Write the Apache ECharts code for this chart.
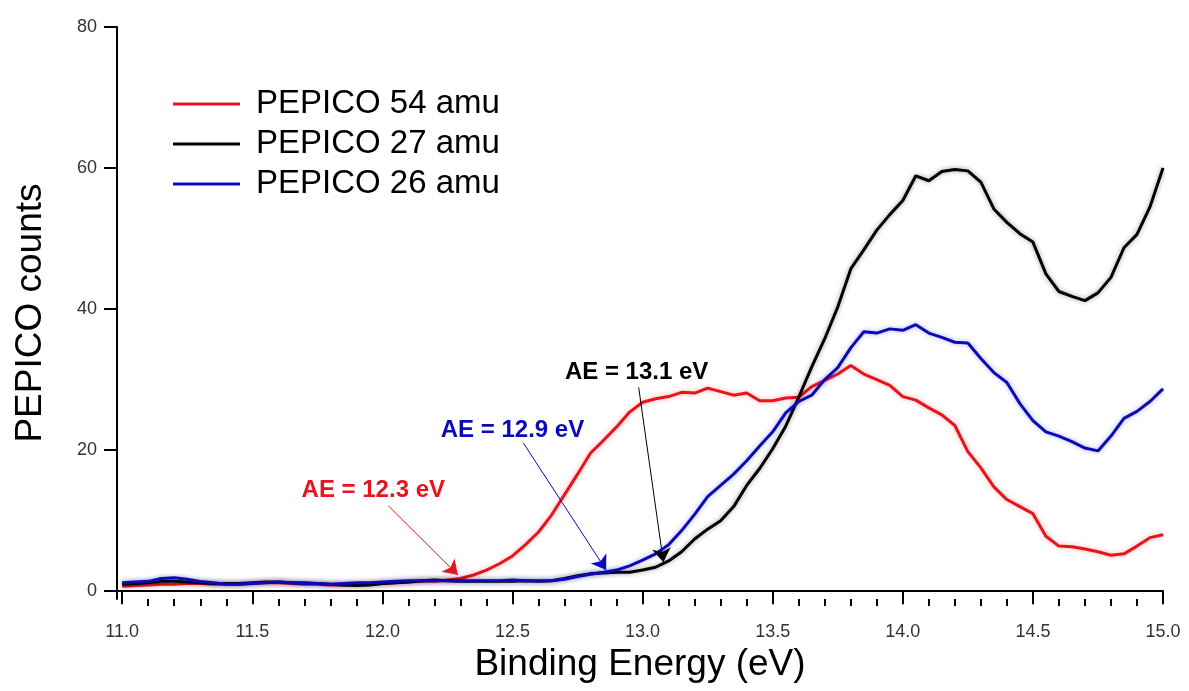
<!DOCTYPE html>
<html>
<head>
<meta charset="utf-8">
<script src="https://cdn.jsdelivr.net/npm/echarts@6/dist/echarts.min.js"></script>
<style>
  html, body { margin: 0; padding: 0; background: #fff; }
  #chart { width: 1189px; height: 691px; }
</style>
</head>
<body>
<div id="chart"></div>
<script>
// binding energy grid (eV)
const energy = [
  11.00, 11.05, 11.10, 11.15, 11.20, 11.25, 11.30, 11.35, 11.40, 11.45,
  11.50, 11.55, 11.60, 11.65, 11.70, 11.75, 11.80, 11.85, 11.90, 11.95,
  12.00, 12.05, 12.10, 12.15, 12.20, 12.25, 12.30, 12.35, 12.40, 12.45,
  12.50, 12.55, 12.60, 12.65, 12.70, 12.75, 12.80, 12.85, 12.90, 12.95,
  13.00, 13.05, 13.10, 13.15, 13.20, 13.25, 13.30, 13.35, 13.40, 13.45,
  13.50, 13.55, 13.60, 13.65, 13.70, 13.75, 13.80, 13.85, 13.90, 13.95,
  14.00, 14.05, 14.10, 14.15, 14.20, 14.25, 14.30, 14.35, 14.40, 14.45,
  14.50, 14.55, 14.60, 14.65, 14.70, 14.75, 14.80, 14.85, 14.90, 14.95,
  15.00
]

const amu54 = [
  0.7, 0.8, 0.9, 1.0, 1.0, 1.1, 1.1, 1.0, 1.0, 1.0,
  1.1, 1.2, 1.2, 1.1, 1.0, 1.0, 0.9, 0.9, 1.0, 1.0,
  1.1, 1.2, 1.3, 1.4, 1.4, 1.6, 1.8, 2.3, 3.0, 3.9,
  5.0, 6.6, 8.4, 10.8, 13.7, 16.6, 19.6, 21.4, 23.3, 25.4,
  26.8, 27.3, 27.6, 28.2, 28.1, 28.8, 28.3, 27.8, 28.1, 27.0,
  27.0, 27.4, 27.5, 29.0, 29.9, 30.8, 32.0, 30.8, 30.0, 29.2,
  27.6, 27.1, 26.0, 25.0, 23.5, 19.8, 17.5, 14.8, 13.0, 12.0,
  11.0, 7.8, 6.4, 6.3, 6.0, 5.6, 5.1, 5.3, 6.4, 7.6,
  8.0
]

const amu27 = [
  1.0, 1.1, 1.2, 1.4, 1.4, 1.3, 1.2, 1.1, 1.1, 1.1,
  1.2, 1.3, 1.3, 1.2, 1.2, 1.1, 1.0, 0.9, 0.8, 0.9,
  1.1, 1.2, 1.3, 1.5, 1.6, 1.5, 1.4, 1.4, 1.4, 1.4,
  1.4, 1.5, 1.4, 1.5, 1.8, 2.2, 2.5, 2.6, 2.7, 2.7,
  3.0, 3.4, 4.3, 5.6, 7.4, 8.8, 10.0, 12.0, 15.0, 17.4,
  20.2, 23.4, 27.5, 31.8, 35.8, 40.3, 45.7, 48.4, 51.2, 53.4,
  55.4, 58.9, 58.2, 59.5, 59.8, 59.6, 58.0, 54.2, 52.3, 50.7,
  49.5, 45.0, 42.5, 41.8, 41.2, 42.3, 44.5, 48.7, 50.6, 54.5,
  60.0
]

const amu26 = [
  1.2, 1.3, 1.4, 1.8, 1.9, 1.7, 1.4, 1.2, 1.0, 1.0,
  1.1, 1.2, 1.3, 1.2, 1.1, 1.1, 1.0, 1.1, 1.2, 1.2,
  1.3, 1.4, 1.5, 1.5, 1.5, 1.5, 1.5, 1.5, 1.5, 1.5,
  1.6, 1.5, 1.5, 1.5, 1.7, 2.1, 2.4, 2.7, 3.0, 3.6,
  4.4, 5.3, 6.6, 8.6, 10.9, 13.4, 15.0, 16.6, 18.5, 20.6,
  22.6, 25.3, 26.9, 27.8, 30.0, 31.7, 34.5, 36.8, 36.6, 37.2,
  37.0, 37.8, 36.6, 36.0, 35.3, 35.2, 33.0, 31.0, 29.6, 26.6,
  24.2, 22.6, 22.0, 21.2, 20.3, 19.9, 22.0, 24.5, 25.5, 26.9,
  28.7
]

const seriesNames = ['PEPICO 54 amu', 'PEPICO 27 amu', 'PEPICO 26 amu']
const seriesColors = ['#e8141b', '#000000', '#0a0ab8']
const shadeColors = ['rgba(232,20,27,0.35)', 'rgba(0,0,0,0.4)', 'rgba(10,10,184,0.35)']

// tick positions
const xMajorTicks = [11.0, 11.5, 12.0, 12.5, 13.0, 13.5, 14.0, 14.5, 15.0]
const xMinorTicks = [
  11.1, 11.2, 11.3, 11.4, 11.6, 11.7, 11.8, 11.9,
  12.1, 12.2, 12.3, 12.4, 12.6, 12.7, 12.8, 12.9,
  13.1, 13.2, 13.3, 13.4, 13.6, 13.7, 13.8, 13.9,
  14.1, 14.2, 14.3, 14.4, 14.6, 14.7, 14.8, 14.9
]
const yTicks = [0, 20, 40, 60, 80]

// appearance-energy annotations, one per series (54, 27, 26 amu)
const aeLabels = ['AE = 12.3 eV', 'AE = 13.1 eV', 'AE = 12.9 eV']
const aeTextAt = [[11.965, 14.3], [12.977, 31.1], [12.5, 22.8]]
const aeArrowFrom = [[12.023, 12.1], [12.985, 28.9], [12.542, 21.0]]
const aeArrowTo = [[12.29, 2.3], [13.08, 4.1], [12.86, 3.0]]

const FONT = 'Liberation Sans, Arial, sans-serif'
const chart = echarts.init(document.getElementById('chart'))

const allData = [amu54, amu27, amu26]

const series = allData.map((vals, i) => ({
  name: seriesNames[i],
  type: 'line',
  data: energy.map((e, k) => [e, vals[k]]),
  showSymbol: false,
  smooth: false,
  animation: false,
  lineStyle: {
    color: seriesColors[i],
    width: 3,
    shadowColor: shadeColors[i],
    shadowBlur: 5
  },
  itemStyle: { color: seriesColors[i] },
  markLine: {
    silent: true,
    animation: false,
    symbol: ['none', 'arrow'],
    symbolSize: 14,
    label: { show: false },
    emphasis: { disabled: true },
    lineStyle: { color: seriesColors[i], width: 1, type: 'solid' },
    data: [[{ coord: aeArrowFrom[i] }, { coord: aeArrowTo[i] }]]
  }
}))

const option = {
  backgroundColor: '#fff',
  animation: false,
  grid: {
    left: 117,
    right: 26,
    top: 27,
    bottom: 92,
    outerBoundsMode: 'none'
  },
  legend: {
    data: seriesNames,
    orient: 'vertical',
    left: 173,
    top: 84,
    padding: 0,
    icon: 'rect',
    itemWidth: 67,
    itemHeight: 3,
    itemGap: 0,
    selectedMode: false,
    textStyle: {
      fontFamily: FONT,
      fontSize: 33,
      color: '#000',
      lineHeight: 40,
      padding: [0, 0, 0, 11]
    }
  },
  xAxis: [
    {
      type: 'value',
      min: 10.98,
      max: 15,
      name: 'Binding Energy (eV)',
      nameLocation: 'middle',
      nameGap: 47,
      nameTextStyle: { fontFamily: FONT, fontSize: 37, color: '#000' },
      axisLine: { show: true, lineStyle: { color: '#000', width: 2 } },
      axisTick: {
        show: true,
        inside: false,
        length: 13,
        customValues: xMajorTicks,
        lineStyle: { color: '#000', width: 2 }
      },
      axisLabel: {
        customValues: xMajorTicks,
        margin: 24,
        fontFamily: FONT,
        fontSize: 18,
        color: '#333',
        formatter: v => v.toFixed(1)
      },
      splitLine: { show: false }
    },
    {
      type: 'value',
      min: 10.98,
      max: 15,
      position: 'bottom',
      axisLine: { show: false },
      axisTick: {
        show: true,
        length: 7,
        customValues: xMinorTicks,
        lineStyle: { color: '#000', width: 2 }
      },
      axisLabel: { show: false },
      splitLine: { show: false }
    }
  ],
  yAxis: {
    type: 'value',
    min: -1.1,
    max: 80,
    name: 'PEPICO counts',
    nameLocation: 'middle',
    nameGap: 68,
    nameTextStyle: { fontFamily: FONT, fontSize: 37, color: '#000' },
    axisLine: { show: true, lineStyle: { color: '#000', width: 2 } },
    axisTick: {
      show: true,
      length: 13,
      customValues: yTicks,
      lineStyle: { color: '#000', width: 2 }
    },
    axisLabel: {
      customValues: yTicks,
      margin: 20,
      fontFamily: FONT,
      fontSize: 18,
      color: '#333'
    },
    splitLine: { show: false }
  },
  series: series
}

chart.setOption(option)

// AE labels placed in data space
const graphics = aeLabels.map((txt, i) => {
  const p = chart.convertToPixel({ gridIndex: 0 }, aeTextAt[i])
  return {
    type: 'text',
    x: p[0],
    y: p[1],
    silent: true,
    style: {
      text: txt,
      fill: seriesColors[i],
      font: 'bold 24px ' + FONT,
      textAlign: 'center',
      textVerticalAlign: 'middle'
    }
  }
})
chart.setOption({ graphic: graphics })
</script>
</body>
</html>
